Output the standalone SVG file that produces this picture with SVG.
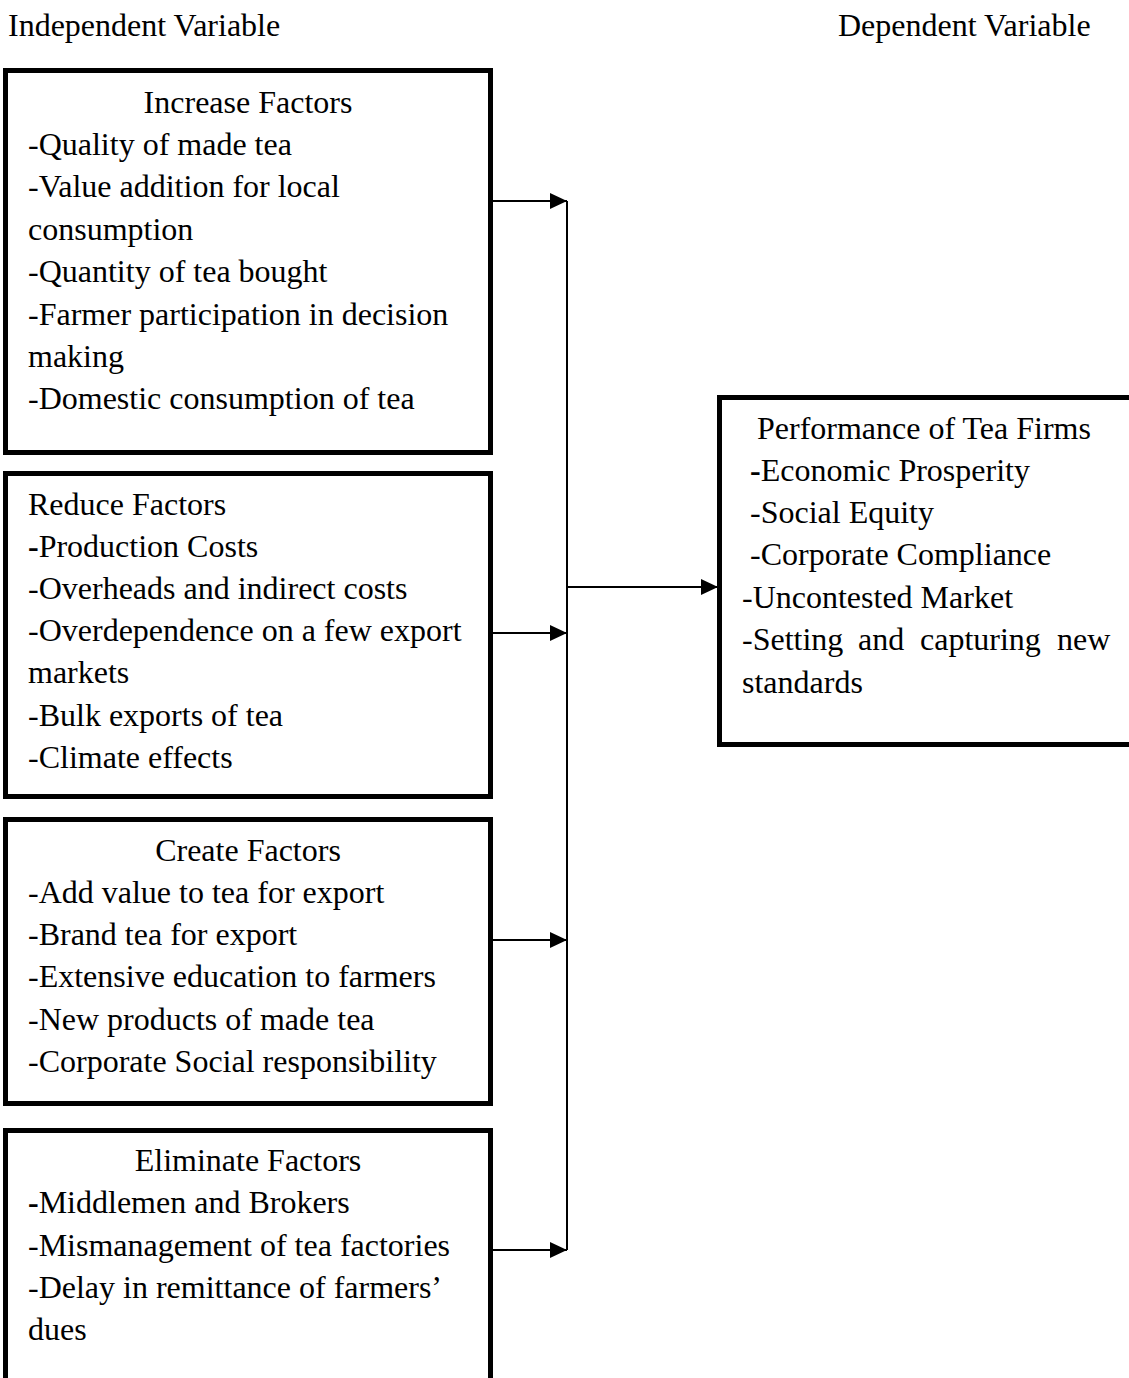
<svg xmlns="http://www.w3.org/2000/svg" width="1129" height="1378" viewBox="0 0 1129 1378">
<style>
text{font-family:"Liberation Serif","Times New Roman",serif;font-size:32px;fill:#000}
.box{fill:#fff;stroke:#000;stroke-width:5}
.c{text-anchor:middle}
.conn{stroke:#000;stroke-width:2;fill:none}
.b{font-weight:bold}
</style>
<defs>
<marker id="ah" markerUnits="userSpaceOnUse" markerWidth="20" markerHeight="20" refX="17" refY="8" orient="auto" overflow="visible">
<path d="M0,0 L17,8 L0,16 Z" fill="#000"/>
</marker>
</defs>
<text x="8" y="36">Independent Variable</text>
<text x="838" y="36">Dependent Variable</text>
<g id="increase">
<rect class="box" x="5.5" y="70.5" width="485" height="382"/>
<text class="c" x="248" y="113">Increase Factors</text>
<text x="28" y="155">-Quality of made tea</text>
<text x="28" y="197">-Value addition for local</text>
<text x="28" y="240">consumption</text>
<text x="28" y="282">-Quantity of tea bought</text>
<text x="28" y="325">-Farmer participation in decision</text>
<text x="28" y="367">making</text>
<text x="28" y="409">-Domestic consumption of tea</text>
</g>
<g id="reduce">
<rect class="box" x="5.5" y="473.5" width="485" height="323"/>
<text x="28" y="515">Reduce Factors</text>
<text x="28" y="557"><tspan class="b">-</tspan>Production Costs</text>
<text x="28" y="599">-Overheads and indirect costs</text>
<text x="28" y="641">-Overdependence on a few export</text>
<text x="28" y="683">markets</text>
<text x="28" y="726">-Bulk exports of tea</text>
<text x="28" y="768">-Climate effects</text>
</g>
<g id="create">
<rect class="box" x="5.5" y="819.5" width="485" height="284"/>
<text class="c" x="248" y="861">Create Factors</text>
<text x="28" y="903">-Add value to tea for export</text>
<text x="28" y="945">-Brand tea for export</text>
<text x="28" y="987">-Extensive education to farmers</text>
<text x="28" y="1030">-New products of made tea</text>
<text x="28" y="1072">-Corporate Social responsibility</text>
</g>
<g id="eliminate">
<rect class="box" x="5.5" y="1130.5" width="485" height="300"/>
<text class="c" x="248" y="1171">Eliminate Factors</text>
<text x="28" y="1213"><tspan class="b">-</tspan>Middlemen and Brokers</text>
<text x="28" y="1256">-Mismanagement of tea factories</text>
<text x="28" y="1298">-Delay in remittance of farmers’</text>
<text x="28" y="1340">dues</text>
</g>
<g id="performance">
<rect class="box" x="719.5" y="397.5" width="420" height="347"/>
<text x="757" y="439">Performance of Tea Firms</text>
<text x="750" y="481"><tspan class="b">-</tspan>Economic Prosperity</text>
<text x="750" y="523">-Social Equity</text>
<text x="750" y="565">-Corporate Compliance</text>
<text x="742" y="608">-Uncontested Market</text>
<text y="650"><tspan x="742">-Setting</tspan><tspan x="858">and</tspan><tspan x="920">capturing</tspan><tspan x="1057">new</tspan></text>
<text x="742" y="693">standards</text>
</g>
<g id="connectors">
<line class="conn" x1="567" y1="201" x2="567" y2="1250" stroke-width="1.5"/>
<line class="conn" x1="493" y1="201" x2="567" y2="201" marker-end="url(#ah)"/>
<line class="conn" x1="493" y1="633" x2="567" y2="633" marker-end="url(#ah)"/>
<line class="conn" x1="493" y1="940" x2="567" y2="940" marker-end="url(#ah)"/>
<line class="conn" x1="493" y1="1250" x2="567" y2="1250" marker-end="url(#ah)"/>
<line class="conn" x1="567" y1="587" x2="718" y2="587" marker-end="url(#ah)"/>
</g>
</svg>
